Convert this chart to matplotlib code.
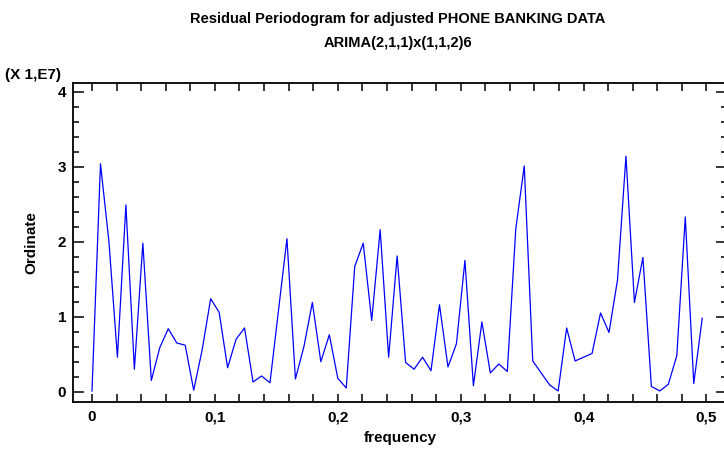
import numpy as np
import matplotlib
matplotlib.use('Agg')
import matplotlib.pyplot as plt
from matplotlib.ticker import MultipleLocator, FuncFormatter

plt.rcParams['font.family'] = ['Liberation Sans', 'DejaVu Sans']

# periodogram ordinates (units of 1E7) at frequencies k/145
n_obs = 145
ordenadas = [0.01, 3.04, 2.00, 0.46, 2.49, 0.30, 1.98, 0.15, 0.59, 0.84,
             0.65, 0.62, 0.02, 0.56, 1.24, 1.06, 0.32, 0.70, 0.85, 0.13,
             0.21, 0.12, 1.08, 2.04, 0.17, 0.60, 1.19, 0.40, 0.76, 0.18,
             0.05, 1.67, 1.98, 0.95, 2.16, 0.46, 1.81, 0.39, 0.30, 0.46,
             0.28, 1.16, 0.33, 0.64, 1.75, 0.08, 0.93, 0.25, 0.37, 0.27,
             2.17, 3.01, 0.41, 0.25, 0.09, 0.01, 0.85, 0.41, 0.46, 0.51,
             1.05, 0.79, 1.49, 3.14, 1.19, 1.79, 0.07, 0.01, 0.10, 0.48,
             2.33, 0.11, 0.98]
frecuencias = np.arange(len(ordenadas)) / n_obs

titulo = 'Residual Periodogram for adjusted PHONE BANKING DATA\nARIMA(2,1,1)x(1,1,2)6'

fig = plt.figure(figsize=(7.24, 4.5), dpi=100)
ax = fig.add_axes([73 / 724, 1 - 401.7 / 450, (727 - 73) / 724, (401.7 - 82.7) / 450])

ax.plot(frecuencias, ordenadas, color='#0000ff', lw=0.9)

ax.set_xlim(-0.01546, 0.5167)
ax.set_ylim(-0.133, 4.12)

ax.xaxis.set_major_locator(MultipleLocator(0.1))
ax.xaxis.set_minor_locator(MultipleLocator(0.02))
ax.yaxis.set_major_locator(MultipleLocator(1))
ax.yaxis.set_minor_locator(MultipleLocator(0.2))
ax.xaxis.set_major_formatter(FuncFormatter(lambda v, p: ('%g' % round(v, 2)).replace('.', ',')))
ax.yaxis.set_major_formatter(FuncFormatter(lambda v, p: '%d' % round(v)))

ax.tick_params(axis='x', which='both', direction='in', top=True, length=6, width=1.1,
               labelsize=11, pad=6)
ax.tick_params(axis='y', which='major', direction='in', right=True, length=8, width=1.1,
               labelsize=11, pad=5)
ax.tick_params(axis='y', which='minor', direction='in', right=True, length=4.5, width=1.1)
for lbl in ax.get_xticklabels() + ax.get_yticklabels():
    lbl.set_fontweight('bold')

for s in ax.spines.values():
    s.set_linewidth(1.3)

ax.set_xlabel('frequency', fontsize=11, fontweight='bold', labelpad=5)
ax.set_ylabel('Ordinate', fontsize=11, fontweight='bold', labelpad=14)
fig.text(398 / 724, 1 - 31 / 450, titulo, ha='center', va='center', fontsize=10.5,
         fontweight='bold', linespacing=2.0)
fig.text(5 / 724, 1 - 75 / 450, '(X 1,E7)', ha='left', va='center', fontsize=11,
         fontweight='bold')

fig.savefig('out.png', dpi=100)
